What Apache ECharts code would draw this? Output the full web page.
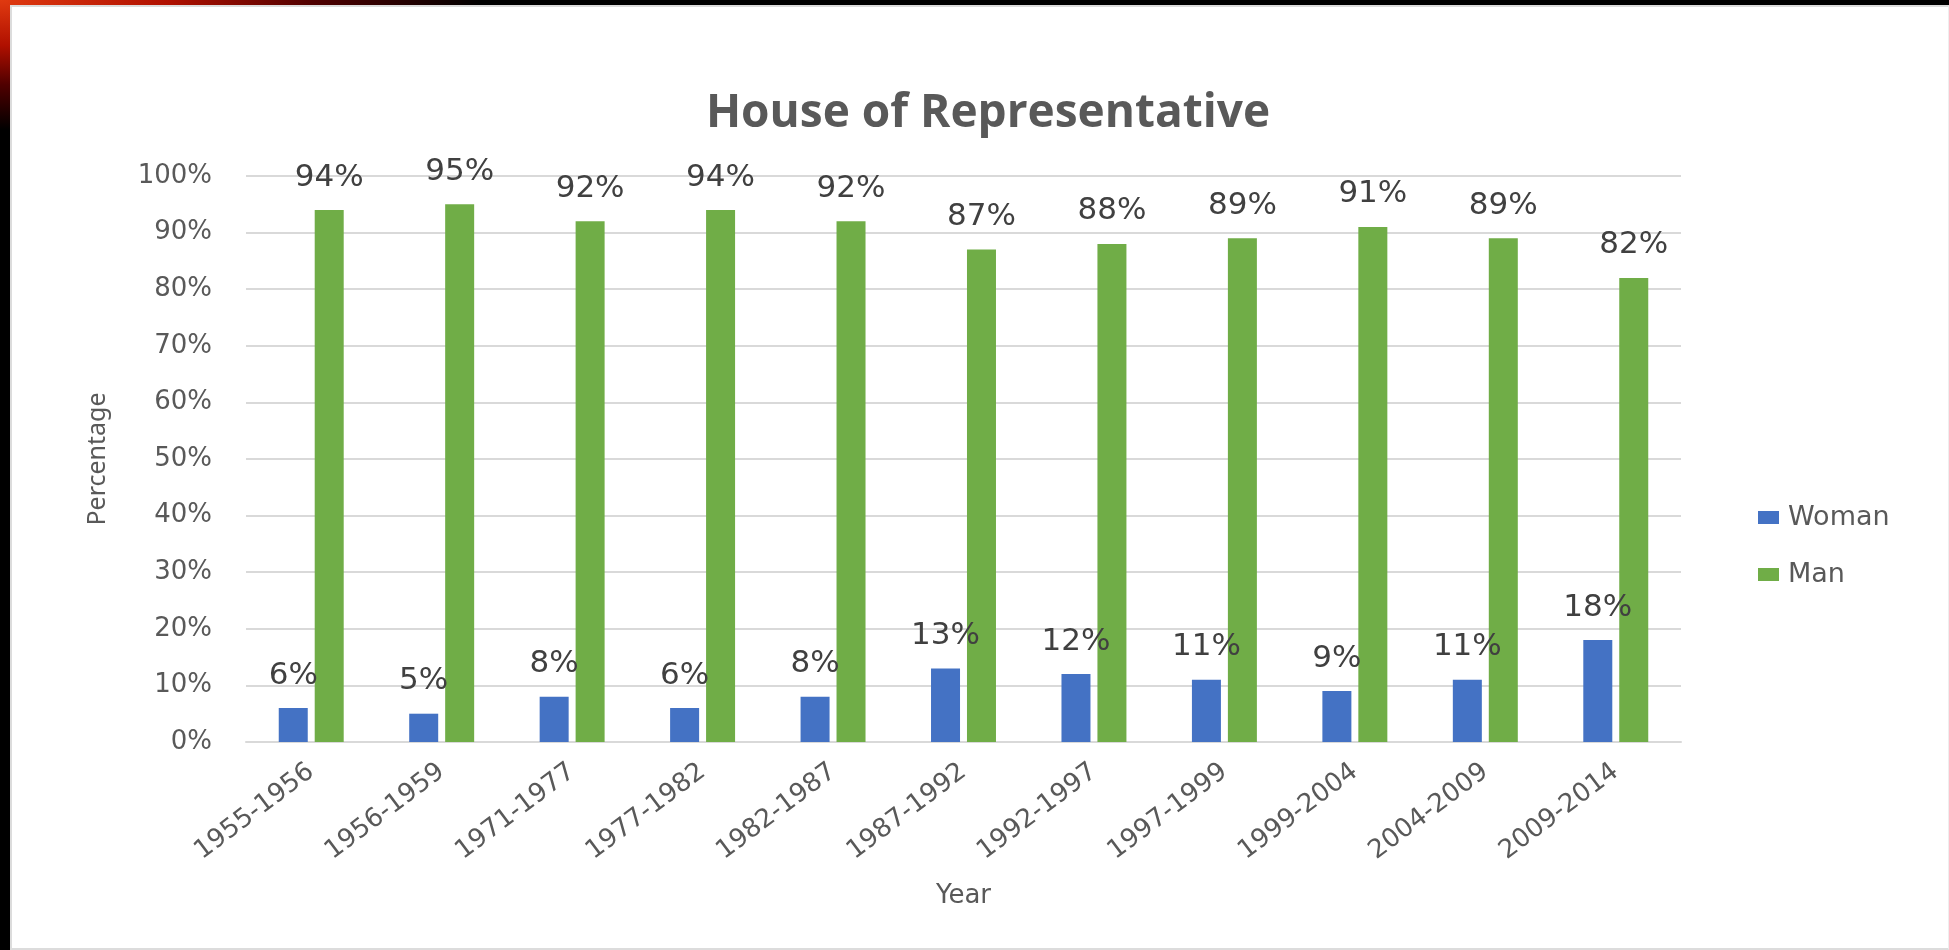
<!DOCTYPE html>
<html>
<head>
<meta charset="utf-8">
<script src="https://cdn.jsdelivr.net/npm/echarts@6/dist/echarts.min.js"></script>
<style>
  html, body { margin: 0; padding: 0; width: 1949px; height: 950px; overflow: hidden; }
  body { background: #000; position: relative; }
  #bg { position: absolute; left: 0; top: 0; width: 1949px; height: 950px;
        background: radial-gradient(ellipse 480px 130px at 0 0, #e03a10 0%, #b01000 35%, #500000 65%, #000 100%); }
  #panel { position: absolute; left: 10px; top: 5px; width: 1939px; height: 945px; box-sizing: border-box;
           background: #fff; border: 2px solid #dcdcdc; border-right: 1px solid #eee; }
  #chart { position: absolute; left: 0; top: 0; width: 1949px; height: 950px; }
</style>
</head>
<body>
<div id="bg"></div>
<div id="panel"></div>
<div id="chart"></div>
<script>
const categories = ['1955-1956','1956-1959','1971-1977','1977-1982','1982-1987','1987-1992','1992-1997','1997-1999','1999-2004','2004-2009','2009-2014'];
const womanValues = [6, 5, 8, 6, 8, 13, 12, 11, 9, 11, 18];
const manValues = [94, 95, 92, 94, 92, 87, 88, 89, 91, 89, 82];
const yTicks = { min: 0, max: 100, interval: 10 };

const chart = echarts.init(document.getElementById('chart'), null, { renderer: 'canvas' });
const labelStyle = {
  show: true, position: 'top', distance: 17,
  formatter: '{c}%', color: '#404040', fontSize: 31, fontFamily: 'DejaVu Sans'
};
chart.setOption({
  backgroundColor: 'transparent',
  animation: false,
  title: {
    text: 'House of Representative',
    left: 983, top: 86, textAlign: 'center',
    textStyle: { color: '#595959', fontSize: 46, fontWeight: 'bold', fontFamily: 'Open Sans' }
  },
  legend: {
    orient: 'vertical', left: 1753, top: 499,
    itemWidth: 21, itemHeight: 13, itemGap: 30,
    icon: 'rect',
    textStyle: { color: '#595959', fontSize: 27, fontFamily: 'DejaVu Sans', padding: [0, 0, 0, 4] },
    data: ['Woman', 'Man']
  },
  grid: { left: 246, right: 268, top: 176, bottom: 208, containLabel: false },
  xAxis: {
    type: 'category', data: categories,
    name: 'Year', nameLocation: 'middle', nameGap: 141,
    nameTextStyle: { color: '#595959', fontSize: 26, fontFamily: 'DejaVu Sans' },
    axisLine: { lineStyle: { color: '#d9d9d9', width: 2 } },
    axisTick: { show: false },
    axisLabel: { interval: 0, rotate: 37, margin: 27, color: '#595959', fontSize: 26, fontFamily: 'DejaVu Sans' }
  },
  yAxis: {
    type: 'value', min: yTicks.min, max: yTicks.max, interval: yTicks.interval,
    name: 'Percentage', nameLocation: 'middle', nameGap: 136, nameRotate: 90,
    nameTextStyle: { color: '#595959', fontSize: 25, fontFamily: 'Noto Sans' },
    axisLine: { show: false }, axisTick: { show: false },
    axisLabel: { formatter: '{value}%', margin: 34, color: '#595959', fontSize: 26, fontFamily: 'DejaVu Sans' },
    splitLine: { lineStyle: { color: '#d9d9d9', width: 2 } }
  },
  series: [
    { name: 'Woman', type: 'bar', data: womanValues, barWidth: 29, barGap: '24%',
      itemStyle: { color: '#4472C4' }, label: labelStyle },
    { name: 'Man', type: 'bar', data: manValues, barWidth: 29, barGap: '24%',
      itemStyle: { color: '#70AD47' }, label: labelStyle }
  ]
});
</script>
</body>
</html>
